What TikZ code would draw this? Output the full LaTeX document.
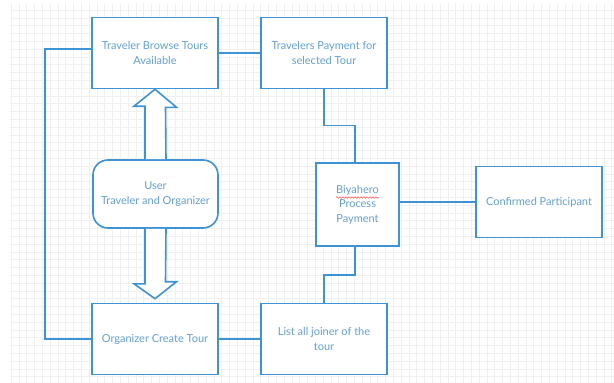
\documentclass[tikz,border=0pt]{standalone}
\usepackage{fontspec}
\setmainfont{Lato}
\usetikzlibrary{positioning,calc,decorations.pathmorphing}
\definecolor{flowline}{RGB}{62,146,214}
\definecolor{flowtext}{RGB}{98,160,212}
\definecolor{gridgray}{RGB}{240,240,240}

\begin{document}
\begin{tikzpicture}[x=1pt,y=-1pt,
    every node/.style={draw=flowline, line width=1.6pt, fill=white, text=flowtext,
      font=\fontsize{11}{14.5}\selectfont, align=center, inner sep=0pt},
    stepbox/.style={minimum width=126pt, minimum height=71pt},
    link/.style={draw=flowline, line width=1.6pt},
    bigarrow/.style={draw=flowline, line width=1.6pt, fill=white, line join=miter}]
  \useasboundingbox (0,0) rectangle (614,383);
  \fill[white] (0,0) rectangle (614,383);
  % grid paper
  \foreach \gx in {11,18.8,...,614} \draw[gridgray, line width=0.4pt] (\gx,3) -- (\gx,383);
  \foreach \gy in {10,17.8,...,383} \draw[gridgray, line width=0.4pt] (10,\gy) -- (614,\gy);

  \node[stepbox] (browse) at (155,53) {Traveler Browse Tours\\Available};
  \node[stepbox] (payment) at (324,53) {Travelers Payment for\\selected Tour};
  \node[stepbox, rounded corners=15pt, minimum width=125pt, minimum height=68pt] (user) at (155.5,194)
    {User\\Traveler and Organizer};
  \node[stepbox] (organizer) at (155,339) {Organizer Create Tour};
  \node[stepbox] (joiners) at (324,339) {List all joiner of the\\tour};
  \node[minimum width=83pt, minimum height=83pt] (biyahero) at (357.5,204.5) {Biyahero\\Process\\Payment};
  \node[stepbox] (confirmed) at (539,202) {Confirmed Participant};
  \coordinate (loop) at (45,0);

  \draw[link] (browse) -- (payment);
  \draw[link] (payment.south) -- ++(0,36) -| ($(biyahero.north)+(-2.5,0)$);
  \draw[link] (biyahero.east |- confirmed.west) -- (confirmed.west);
  \draw[link] ($(biyahero.south)+(-2.5,0)$) -- ++(0,28) -| (joiners.north);
  \draw[link] (organizer) -- (joiners);
  \draw[link] ([yshift=4pt]browse.west) -| (loop |- organizer.west) -- (organizer.west);

  % block arrows
  \draw[bigarrow] ($(user.north)+(-10.5,0)$) -- ++(0,-53) -- ++(-11,0) -- (browse.south)
    -- ++(21.5,18) -- ++(-11,0) -- ($(user.north)+(10.5,0)$);
  \draw[bigarrow] ($(user.south)+(-10.5,0)$) -- ++(0,55) -- ++(-11,0) -- ($(organizer.north)+(0,-4)$)
    -- ++(21.5,-17) -- ++(-11,0) -- ($(user.south)+(10.5,0)$);

  % spell check mark
  \draw[red!70!white, line width=0.5pt, decorate, decoration={snake, amplitude=0.8pt, segment length=3pt}]
    (336,197.5) -- (379,197.5);
\end{tikzpicture}
\end{document}
